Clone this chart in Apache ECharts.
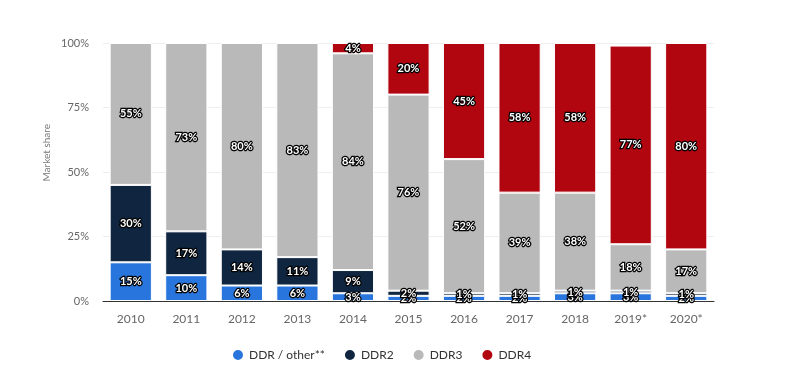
<!DOCTYPE html>
<html><head><meta charset="utf-8">
<script src="https://cdn.jsdelivr.net/npm/echarts@6/dist/echarts.min.js"></script>
<style>html,body{margin:0;padding:0;background:#fff}#c{width:800px;height:389px}</style>
</head><body><div id="c"></div>
<script>
const categories = ['2010','2011','2012','2013','2014','2015','2016','2017','2018','2019*','2020*'];
const ddrOther = [15,10,6,6,3,2,2,2,3,3,2];
const ddr2 = [30,17,14,11,9,2,1,1,1,1,1];
const ddr3 = [55,73,80,83,84,76,52,39,38,18,17];
const ddr4 = [null,null,null,null,4,20,45,58,58,77,80];
const yTicks = [0,25,50,75,100];

const chart = echarts.init(document.getElementById('c'));
const lbl = {show:true, position:'inside', formatter:p=> p.value==null?'':p.value+'%', color:'#fff', fontWeight:'bold', fontSize:11, fontFamily:'Lato', textBorderColor:'#000', textBorderWidth:2.5};
function s(name, data, color){
  return {name, type:'bar', stack:'a', data, barWidth:'76%', itemStyle:{color, borderColor:'#fff', borderWidth:1}, label:lbl, emphasis:{disabled:true}};
}
chart.setOption({
  animation:false,
  grid:{left:103, right:86, top:43, bottom:88},
  legend:{bottom:22, left:226, icon:'circle', itemWidth:12, itemHeight:12, itemGap:18, textStyle:{color:'#333', fontSize:12, fontFamily:'Lato'}},
  xAxis:{type:'category', data:categories, axisTick:{show:false}, axisLine:{lineStyle:{color:'#333'}}, axisLabel:{color:'#666', fontSize:12, margin:12, fontFamily:'Lato'}},
  yAxis:{type:'value', min:yTicks[0], max:yTicks[yTicks.length-1], interval:25, axisLabel:{color:'#666', fontSize:11, margin:14, formatter:'{value}%', fontFamily:'Lato'}, splitLine:{lineStyle:{color:'#eeeeee'}}, axisLine:{show:false}},
  graphic:[{type:'text', left:42, top:124, rotation:Math.PI/2, style:{text:'Market share', fill:'#777', fontSize:10, fontFamily:'Lato'}}],
  series:[s('DDR / other**', ddrOther, '#2876dd'), s('DDR2', ddr2, '#0f2540'), s('DDR3', ddr3, '#b9b9b9'), s('DDR4', ddr4, '#b1050f')]
});
</script></body></html>
